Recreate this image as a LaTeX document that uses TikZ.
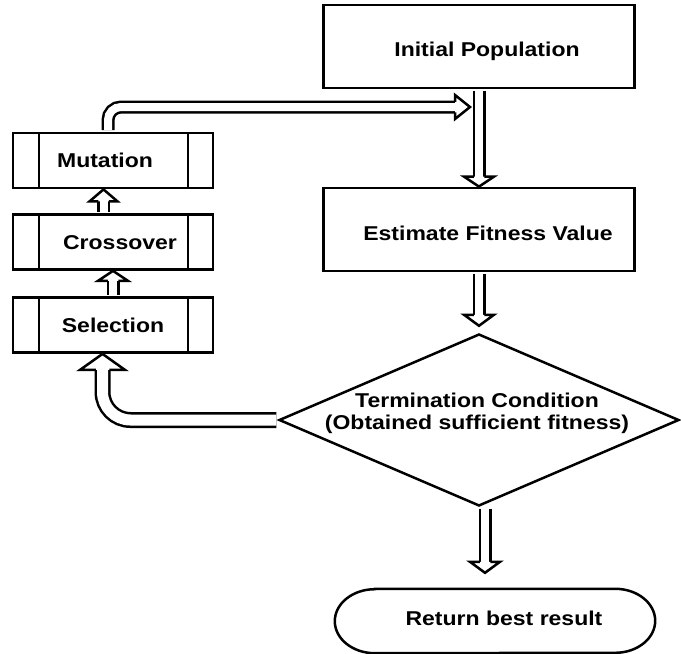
\documentclass[tikz,border=0pt]{standalone}
\usepackage{fontspec}
\newfontfamily\flowfont{Liberation Sans}[FakeStretch=1.15]
\usetikzlibrary{shapes.geometric}

\tikzset{
  hd len/.store in=\hdlen, hd wid/.store in=\hdwid, hd gap/.store in=\hdgap,
  hd len=11, hd wid=14, hd gap=5.25,
  hollow head/.pic={
    \draw[line width=2.5pt, fill=white] (-\hdlen,\hdgap) -- (-\hdlen,\hdwid) -- (0,0) -- (-\hdlen,-\hdwid) -- (-\hdlen,-\hdgap);
  },
  shaft/.style={double, line width=2.5pt, double distance=8pt, shorten <=1.5pt},
  box/.style={draw, line width=2.8pt, minimum width=311pt, minimum height=83pt},
  proc/.style={draw, line width=2.8pt, minimum width=200pt, minimum height=55pt,
    path picture={
      \draw[line width=2.8pt] ([xshift=26pt]path picture bounding box.north west) -- ([xshift=26pt]path picture bounding box.south west);
      \draw[line width=2.8pt] ([xshift=-25pt]path picture bounding box.north east) -- ([xshift=-25pt]path picture bounding box.south east);
    }},
  cond/.style={diamond, draw, line width=2.5pt, minimum width=400pt, minimum height=172pt, inner sep=0pt},
  every label/.style={font=\flowfont\bfseries\fontsize{20}{22}\selectfont, align=center},
}

\begin{document}
\begin{tikzpicture}[x=1pt,y=1pt]
\useasboundingbox (0,0) rectangle (681,-654);

% right column
\node[box, label={[xshift=8pt,yshift=-5pt]center:Initial Population}] (ip) at (479,-46.5) {};
\node[box, label={[xshift=9pt,yshift=-4pt]center:Estimate Fitness Value}] (ef) at (479,-229.5) {};
\node[cond, label={[xshift=-2pt,yshift=7pt]center:Termination Condition\\(Obtained sufficient fitness)}] (cond) at (479,-420) {};
\node[minimum width=320pt, minimum height=64pt, label={[xshift=9pt,yshift=3pt]center:Return best result}] (ret) at (495,-621) {};
\draw[line width=2.5pt] ([xshift=40pt]ret.north west) -- ([xshift=-40pt]ret.north east)
  arc[start angle=90, end angle=-90, x radius=40pt, y radius=32pt]
  -- ([xshift=40pt]ret.south west)
  arc[start angle=270, end angle=90, x radius=40pt, y radius=32pt] -- cycle;

% left column
\node[proc, label={[xshift=-8pt]center:Mutation}] (mut) at (113,-160.5) {};
\node[proc, label={[xshift=7pt,yshift=-1pt]center:Crossover}] (cro) at (113,-242) {};
\node[proc, label=center:Selection] (sel) at (113,-325) {};

% hollow arrows
\draw[shaft, shorten >=10pt] (ip) -- (ef);
\pic[rotate=-90, hd len=10, hd wid=15] at (ef.north) {hollow head};

\coordinate (condtip) at ([yshift=7pt]cond.north);
\draw[shaft, shorten >=10pt] (ef) -- (condtip);
\pic[rotate=-90, hd len=11, hd wid=15] at (condtip) {hollow head};

\coordinate (rettip) at ([xshift=6pt,yshift=16pt]cond.south |- ret.north);
\draw[shaft, shorten >=10pt] ([xshift=6pt]cond.south) -- (rettip);
\pic[rotate=-90, hd len=11, hd wid=15] at (rettip) {hollow head};

\draw[shaft, shorten >=9pt] (sel) -- (cro);
\pic[rotate=90, hd len=10, hd wid=15] at (cro.south) {hollow head};
\draw[shaft, shorten >=11pt] ([xshift=-9.5pt]cro.north) -- ([xshift=-9.5pt]mut.south);
\pic[rotate=90, hd len=12, hd wid=14] at ([xshift=-9.5pt]mut.south) {hollow head};

\coordinate (join) at (470,-107);
\draw[shaft, rounded corners=13pt, shorten >=14pt] ([xshift=-5pt]mut.north) |- (join);
\pic[hd len=15, hd wid=12] at (join) {hollow head};

\draw[shaft, double distance=11pt, rounded corners=28pt, shorten >=15pt] (cond.west) -| ([xshift=-10.5pt]sel.south);
\pic[rotate=90, hd len=16, hd wid=22.5, hd gap=6.75] at ([xshift=-10.5pt]sel.south) {hollow head};

\end{tikzpicture}
\end{document}
